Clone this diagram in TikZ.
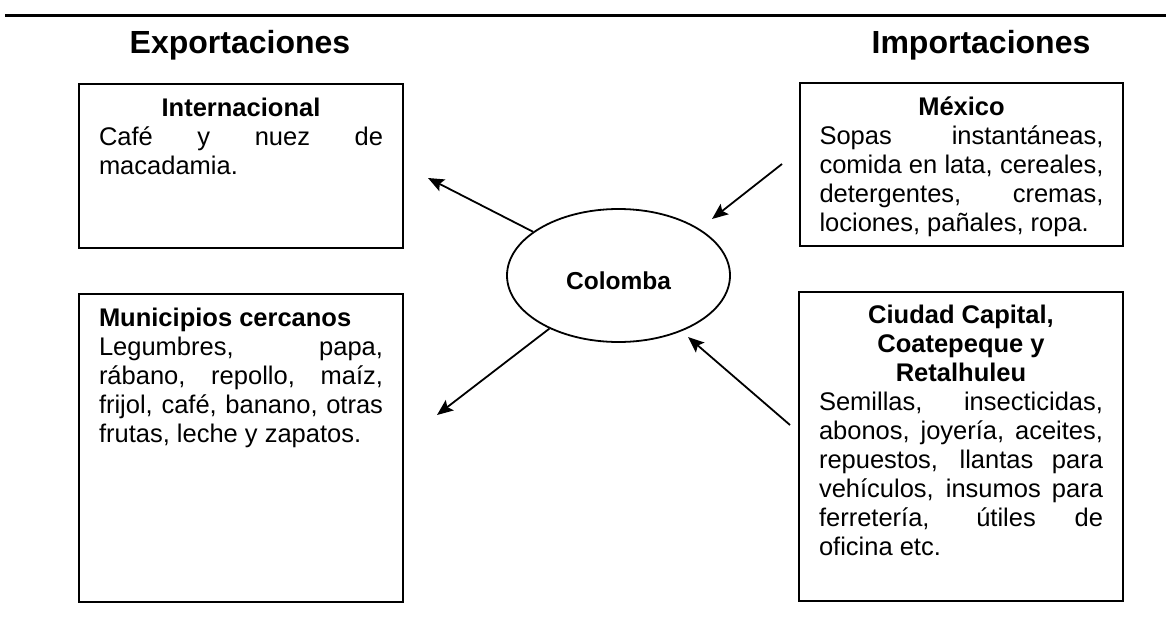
\documentclass[tikz,border=0pt]{standalone}
\usepackage{fontspec}
\setmainfont{Liberation Sans}
\usetikzlibrary{positioning,shapes.geometric,arrows.meta}
\setlength{\parindent}{0pt}
\begin{document}
\begin{tikzpicture}[x=1pt,y=-1pt,
    caja/.style={draw,line width=1.8pt,inner sep=0pt},
    texto/.style={inner sep=0pt,text width=284pt,align=justify,font=\fontsize{25.5}{29}\selectfont},
    titulo/.style={font=\fontsize{32}{36}\selectfont\bfseries},
    flecha/.style={line width=1.8pt,-{Stealth[length=16pt,width=13pt,inset=3pt]}}]
  \useasboundingbox (0,0) rectangle (1166,623);
  \draw[line width=3pt] (5,16) -- (1166,16);
  \node[titulo,anchor=base] (export) at (240,54) {Exportaciones};
  \node[titulo,anchor=base] (import) at (981,54) {Importaciones};
  \node[caja,minimum width=324pt,minimum height=164pt] (inter) at (241,166) {};
  \node[caja,minimum width=324pt,minimum height=308pt] (munic) at (241,448) {};
  \node[caja,minimum width=323pt,minimum height=163pt] (mexico) at (961.5,164.5) {};
  \node[caja,minimum width=324pt,minimum height=309pt] (ciudad) at (961,446.5) {};
  \node[texto,below=13pt of inter.north] (intertxt)
    {{\centering\bfseries\strut Internacional\par}
     Café y nuez de\linebreak macadamia.};
  \node[texto,below=13pt of munic.north] (munictxt)
    {{\bfseries\strut Municipios cercanos\par}
     Legumbres, papa,\linebreak rábano, repollo, maíz,\linebreak
     frijol, café, banano, otras\linebreak frutas, leche y zapatos.};
  \node[texto,below=13pt of mexico.north] (mexicotxt)
    {{\centering\bfseries\strut México\par}
     Sopas instantáneas,\linebreak comida en lata, cereales,\linebreak
     detergentes, cremas,\linebreak lociones, pañales, ropa.};
  \node[texto,below=12pt of ciudad.north] (ciudadtxt)
    {{\centering\bfseries\strut Ciudad Capital,\par Coatepeque y\par Retalhuleu\par}
     Semillas, insecticidas,\linebreak abonos, joyería, aceites,\linebreak
     repuestos, llantas para\linebreak vehículos, insumos para\linebreak
     ferretería, útiles de\linebreak oficina etc.};
  \node[draw,ellipse,line width=1.8pt,minimum width=223pt,minimum height=133pt,
    inner sep=0pt,text height=29pt,font=\fontsize{24.5}{29}\selectfont\bfseries] (colomba) at (618.5,275.5) {Colomba};
  \coordinate (a1) at (428,178);
  \coordinate (a2) at (437,415);
  \coordinate (m0) at (782,164);
  \coordinate (m1) at (712,219);
  \coordinate (c0) at (790,425);
  \coordinate (c1) at (688,337);
  \begin{scope}[flecha]
    \draw (colomba) to (a1);
    \draw (colomba) to (a2);
    \draw (m0) to (m1);
    \draw (c0) to (c1);
  \end{scope}
\end{tikzpicture}
\end{document}
